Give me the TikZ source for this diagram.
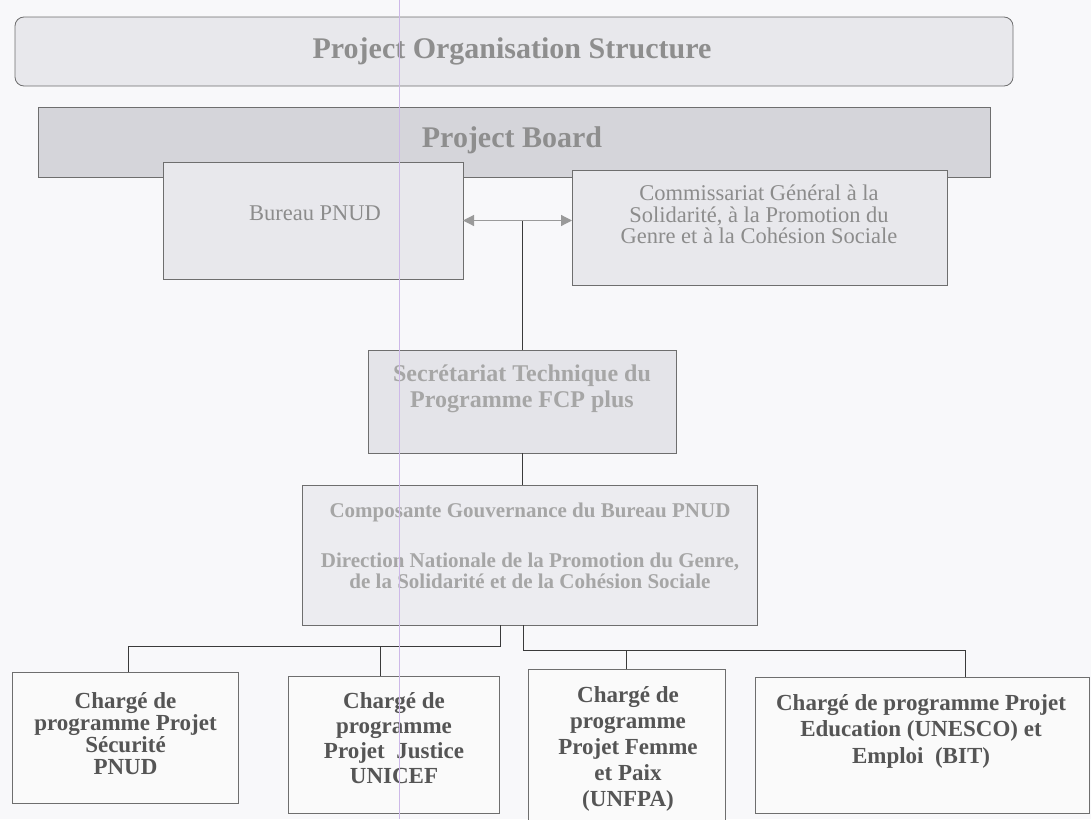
\documentclass[tikz,border=0pt]{standalone}
\usepackage{fontspec}
\setmainfont{Liberation Serif}
\usetikzlibrary{arrows.meta}
\usetikzlibrary{positioning}

\definecolor{paper}{HTML}{F8F8FA}
\definecolor{titlefill}{HTML}{E8E8EC}
\definecolor{boardfill}{HTML}{D5D5DA}
\definecolor{partfill}{HTML}{E8E8EC}
\definecolor{secfill}{HTML}{E4E4E9}
\definecolor{compfill}{HTML}{ECECF0}
\definecolor{boxwhite}{HTML}{FAFAFA}
\definecolor{edge}{HTML}{6E6E6E}
\definecolor{headgrey}{HTML}{8E8E8E}
\definecolor{partgrey}{HTML}{8C8C8C}
\definecolor{lightgrey}{HTML}{A6A6A6}
\definecolor{darktext}{HTML}{555555}
\definecolor{linkgrey}{HTML}{3A3A3A}
\definecolor{arrowgrey}{HTML}{9A9A9A}
\definecolor{scanviolet}{HTML}{CDB8E8}

\begin{document}
\begin{tikzpicture}[x=1pt, y=-1pt, >={Triangle[length=11pt, width=11pt]},
    panel/.style={draw=edge, line width=0.8pt, inner sep=0pt, outer sep=0pt},
    heading/.style={anchor=base, inner sep=0pt, text=headgrey,
      font=\fontsize{30}{36}\selectfont\bfseries},
    plaintext/.style={inner sep=0pt, align=center, text=partgrey,
      font=\fontsize{22.5}{21.5}\selectfont},
    sectext/.style={anchor=north, inner sep=0pt, align=center, text=lightgrey,
      font=\fontsize{24}{26}\selectfont\bfseries},
    officer/.style={anchor=north, inner sep=0pt, align=center, text=darktext,
      font=\fontsize{23}{25}\selectfont\bfseries},
    link/.style={draw=linkgrey, line width=0.9pt}]

    \useasboundingbox[fill=paper] (0,0) rectangle (1091,819);

    % banners
    \node[panel, fill=titlefill, rounded corners=9pt, minimum width=998pt, minimum height=69pt] (title) at (514,51.5) {};
    \node[heading] (titletxt) at (512,58) {Project Organisation Structure};
    \node[panel, fill=boardfill, minimum width=952pt, minimum height=70pt] (board) at (514,142) {};
    \node[heading] (boardtxt) at (512,147) {Project Board};

    % board members
    \node[panel, fill=partfill, minimum width=300pt, minimum height=117pt] (bureau) at (313,220.5) {};
    \node[plaintext, anchor=base] (bureautxt) at (315,220) {Bureau PNUD};
    \node[panel, fill=partfill, minimum width=375pt, minimum height=115pt] (commis) at (759.5,227.5) {};
    \node[plaintext, anchor=north] (commistxt) at (759,185) {Commissariat Général à la\\Solidarité, à la Promotion du\\Genre et à la Cohésion Sociale};

    % secretariat and governance
    \node[panel, fill=secfill, minimum width=308pt, minimum height=103pt] (secre) at (522,401.5) {};
    \node[sectext] (secretxt) at (522,365) {Secrétariat Technique du\\Programme FCP plus};
    \node[panel, fill=compfill, minimum width=455pt, minimum height=140pt] (comp) at (529.5,555) {};
    \node[sectext, font=\fontsize{21}{21}\selectfont\bfseries] (comptxt) at (530,502.5) {Composante Gouvernance du Bureau PNUD\\[29pt]Direction Nationale de la Promotion du Genre,\\de la Solidarité et de la Cohésion Sociale};

    % programme officers
    \node[panel, fill=boxwhite, minimum width=226pt, minimum height=131pt] (secu) at (125,737.5) {};
    \node[officer, font=\fontsize{23}{22}\selectfont\bfseries] (secutxt) at (125.5,692) {Chargé de\\programme Projet\\Sécurité\\PNUD};
    \node[panel, fill=boxwhite, minimum width=211pt, minimum height=137pt] (just) at (393.5,744.5) {};
    \node[officer] (justtxt) at (394,692) {Chargé de\\programme\\Projet\ \ Justice\\UNICEF};
    \node[panel, fill=boxwhite, minimum width=197pt, minimum height=156pt] (femme) at (626.5,747) {};
    \node[officer, font=\fontsize{23}{26}\selectfont\bfseries] (femmetxt) at (628,686) {Chargé de\\programme\\Projet Femme\\et Paix\\(UNFPA)};
    \node[panel, fill=boxwhite, minimum width=334pt, minimum height=136pt] (edu) at (922,745) {};
    \node[officer, font=\fontsize{23}{26.5}\selectfont\bfseries] (edutxt) at (921,694) {Chargé de programme Projet\\Education (UNESCO) et\\Emploi\ \ (BIT)};

    % connectors
    \draw[<->, draw=arrowgrey, fill=arrowgrey, line width=1.2pt] (bureau.east) -- (bureau.east -| commis.west);
    \draw[link] (secre.north) -- (secre.north |- bureau.east);
    \draw[link] (secre.south) -- (secre.south |- comp.north);
    \coordinate (busl) at (500,646);
    \coordinate (busr) at (523,650);
    \draw[link] (comp.south -| busl) -- (busl) -| ([xshift=3pt]secu.north);
    \draw[link] (busl) -| ([xshift=-13.5pt]just.north);
    \draw[link] (comp.south -| busr) -- (busr) -| (femme.north);
    \draw[link] (busr) -| ([xshift=43pt]edu.north);

    % scanner streak
    \draw[scanviolet, line width=1pt] (399,0) -- (399,819);
\end{tikzpicture}
\end{document}
